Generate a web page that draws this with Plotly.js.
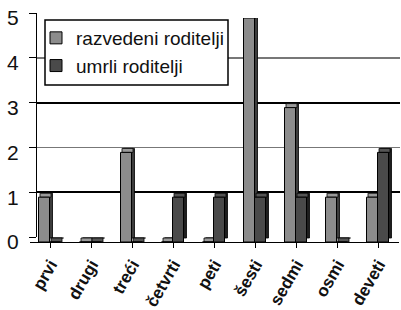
<!DOCTYPE html>
<html><head><meta charset="utf-8">
<script src="https://cdn.plot.ly/plotly-3.0.1.min.js"></script>
<style>html,body{margin:0;padding:0;background:#fff}</style>
</head><body><div id="chart" style="width:401px;height:310px"></div>
<script>
var categories = ["prvi","drugi","treći","četvrti","peti","šesti","sedmi","osmi","deveti"];
var razvedeni = [1,0,2,0,0,5,3,1,1];
var umrli = [0,0,0,1,1,1,1,0,2];
var seriesNames = ["razvedeni roditelji","umrli roditelji"];
var yTicks = [0,1,2,3,4,5];

var idx = categories.map(function(_,i){return i;});
var pitch = 41;            // px per category
var unitPx = 44.8;         // px per value unit
var fw = 11/pitch, dx = 3/pitch, dyU = 4/unitPx;
var offL = -12/pitch, offD = -1/pitch;

function sideFace(vals, off, col){
  return {type:'bar', x:idx, y:vals, base:vals.map(function(){return dyU;}), offset:off+dx, width:fw,
    marker:{color:col, line:{color:'#000', width:0.8}}, showlegend:false, hoverinfo:'skip',
    xaxis:'x3', yaxis:'y3'};
}
function topCap(vals, off, col){
  return {type:'bar', x:idx, y:vals.map(function(){return dyU;}), base:vals, offset:off+dx/2, width:fw,
    marker:{color:col, line:{color:'#000', width:0.8}}, showlegend:false, hoverinfo:'skip',
    xaxis:'x3', yaxis:'y3'};
}
function front(vals, off, col, name, grp){
  return {type:'bar', x:idx, y:vals, offset:off, width:fw, name:name, legendgroup:grp,
    marker:{color:col, line:{color:'#000', width:1}}, xaxis:'x3', yaxis:'y3'};
}
var data = [
  {type:'scatter', x:[], y:[], xaxis:'x', yaxis:'y', showlegend:false, hoverinfo:'skip'},
  {type:'scatter', x:[], y:[], xaxis:'x2', yaxis:'y2', showlegend:false, hoverinfo:'skip'},
  sideFace(razvedeni, offL, '#3c3c3c'),
  topCap(razvedeni, offL, '#9a9a9a'),
  front(razvedeni, offL, '#8c8c8c', seriesNames[0], 'a'),
  sideFace(umrli, offD, '#1e1e1e'),
  topCap(umrli, offD, '#555555'),
  front(umrli, offD, '#4a4a4a', seriesNames[1], 'b')
];

var L=30, R=1, T=13, B=68, W=401, H=310;
var pw = W-L-R, ph = H-T-B;
var wallX = [(37-L)/pw, 1], wallY = [5/ph, 1];
var fnt = 'Liberation Sans, Arial, sans-serif';
var layout = {
  width:W, height:H, margin:{l:L,r:R,t:T,b:B},
  paper_bgcolor:'#fff', plot_bgcolor:'rgba(0,0,0,0)',
  barmode:'overlay', showlegend:true,
  xaxis:{domain:wallX, range:[0,1], showgrid:false, zeroline:false, showticklabels:false, ticks:'', anchor:'y'},
  yaxis:{domain:wallY, range:[0,5], tickmode:'array', tickvals:[0,2,4,5], showticklabels:false,
    gridcolor:'#777', gridwidth:1.5, zeroline:false, showline:true, linecolor:'#000', linewidth:1.5,
    ticks:'outside', ticklen:7, tickcolor:'#000', anchor:'x'},
  xaxis2:{domain:wallX, range:[0,1], showgrid:false, zeroline:false, showticklabels:false, ticks:'', anchor:'y2'},
  yaxis2:{domain:wallY, range:[0,5], tickmode:'array', tickvals:[1,3], showticklabels:false,
    gridcolor:'#000', gridwidth:2, zeroline:false, ticks:'outside', ticklen:7, tickcolor:'#000', anchor:'x2'},
  xaxis3:{domain:[0,(W-L-R-1)/pw], range:[-0.5,8.5], tickmode:'array', tickvals:idx, ticktext:categories,
    tickangle:-60, showgrid:false, zeroline:false, showline:true, linecolor:'#000', linewidth:1,
    ticks:'outside', tickson:'boundaries', ticklen:5, tickcolor:'#000', ticklabelstandoff:0,
    tickfont:{family:fnt, size:17, color:'#111', weight:'bold'},
    anchor:'y3'},
  yaxis3:{domain:[0,1-5/ph], range:[0,5], tickmode:'array', tickvals:yTicks, showgrid:false, zeroline:false,
    showline:false, ticks:'outside', ticklen:6, tickcolor:'rgba(0,0,0,0)',
    tickfont:{family:fnt, size:21, color:'#111'}, anchor:'x3'},
  legend:{x:(36-L)/pw, y:1-(19-T)/ph, xanchor:'left', yanchor:'top', bgcolor:'rgba(0,0,0,0)',
    borderwidth:0, tracegroupgap:12, traceorder:'normal',
    font:{family:fnt, size:19, color:'#111'}},
  shapes:[{type:'rect', xref:'paper', yref:'paper', x0:(45-L)/pw, x1:(228-L)/pw, y0:1-(85-T)/ph, y1:1-(20-T)/ph,
    fillcolor:'#fff', line:{color:'#000', width:1.5}, layer:'above'}]
};
Plotly.newPlot('chart', data, layout, {displayModeBar:false, staticPlot:true});
</script></body></html>
